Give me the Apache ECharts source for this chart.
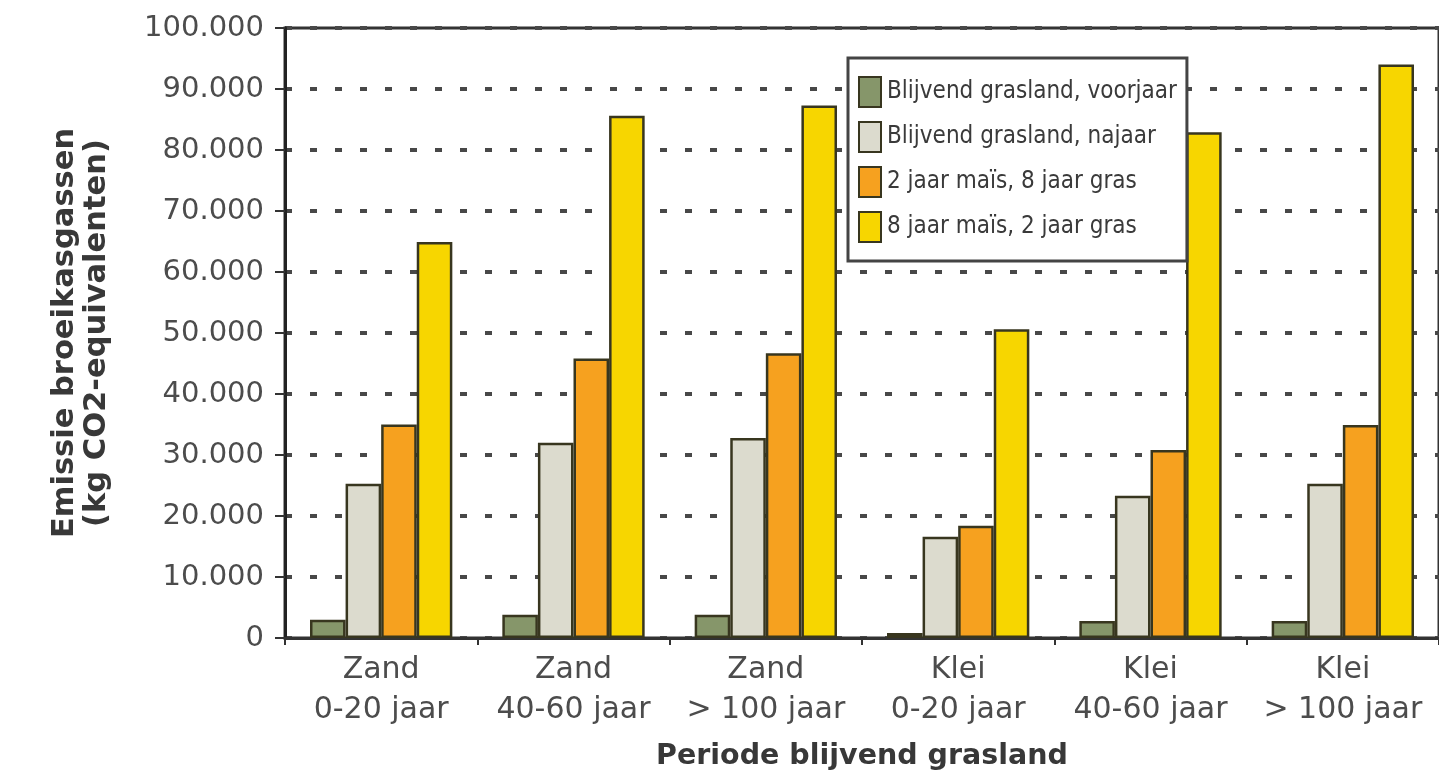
<!DOCTYPE html>
<html>
<head>
<meta charset="utf-8">
<style>
  html, body { margin: 0; padding: 0; background: #ffffff; }
  #chart { width: 1439px; height: 777px; }
</style>
<script src="https://cdn.jsdelivr.net/npm/echarts@6/dist/echarts.min.js"></script>
</head>
<body>
<div id="chart"></div>
<script>
const categories = ['Zand\n0-20 jaar', 'Zand\n40-60 jaar', 'Zand\n> 100 jaar', 'Klei\n0-20 jaar', 'Klei\n40-60 jaar', 'Klei\n> 100 jaar'];
const seriesNames = ['Blijvend grasland, voorjaar', 'Blijvend grasland, najaar', '2 jaar maïs, 8 jaar gras', '8 jaar maïs, 2 jaar gras'];
const voorjaar = [3000, 3800, 3800, 800, 2800, 2800];
const najaar = [25300, 32000, 32800, 16600, 23300, 25300];
const mais2gras8 = [35000, 45800, 46700, 18400, 30800, 34900];
const mais8gras2 = [64900, 85600, 87300, 50600, 82900, 94000];
const yTickLabels = ['0', '10.000', '20.000', '30.000', '40.000', '50.000', '60.000', '70.000', '80.000', '90.000', '100.000'];
const yTitle = 'Emissie broeikasgassen\n(kg CO2-equivalenten)';
const xTitle = 'Periode blijvend grasland';

const colors = ['#86966a', '#dcdbce', '#f6a11f', '#f7d600'];
const values = [voorjaar, najaar, mais2gras8, mais8gras2];
const font = '"DejaVu Sans", "Noto Sans", sans-serif';

const chart = echarts.init(document.getElementById('chart'), null, { renderer: 'canvas' });
chart.setOption({
  backgroundColor: '#ffffff',
  animation: false,
  grid: {
    left: 285, right: -9, top: 28, bottom: 139,
    show: true, borderColor: '#333333', borderWidth: 3, backgroundColor: 'transparent'
  },
  legend: {
    orient: 'vertical',
    left: 848, top: 58,
    padding: [18, 10, 18, 10],
    itemWidth: 22, itemHeight: 30, itemGap: 13,
    borderColor: '#444444', borderWidth: 3,
    backgroundColor: '#ffffff',
    icon: 'rect',
    textStyle: { fontFamily: '"DejaVu Sans Condensed", "DejaVu Sans", sans-serif', fontSize: 24, color: '#3a3a3a', width: 291, padding: [0, 0, 0, 1] },
    data: seriesNames
  },
  xAxis: {
    type: 'category',
    data: categories,
    name: xTitle,
    nameLocation: 'middle',
    nameGap: 104,
    nameTextStyle: { fontFamily: font, fontSize: 28.5, fontWeight: 'bold', color: '#383838' },
    axisLine: { lineStyle: { color: '#333333', width: 3 } },
    axisTick: { show: true, length: 7, alignWithLabel: false, lineStyle: { color: '#333333', width: 2 } },
    axisLabel: { fontFamily: font, fontSize: 30, color: '#4c4c4c', margin: 12, lineHeight: 40, interval: 0 },
    splitLine: { show: false }
  },
  yAxis: {
    type: 'value',
    min: 0, max: 100000, interval: 10000,
    name: yTitle,
    nameLocation: 'middle',
    nameRotate: 90,
    nameGap: 172,
    nameTextStyle: { fontFamily: font, fontSize: 30.5, fontWeight: 'bold', color: '#383838', lineHeight: 32 },
    axisLine: { show: true, lineStyle: { color: '#222222', width: 3 } },
    axisTick: { show: true, length: 10, lineStyle: { color: '#333333', width: 2 } },
    axisLabel: {
      fontFamily: font, fontSize: 29, color: '#4c4c4c', margin: 21,
      formatter: function (v) { return yTickLabels[Math.round(v / 10000)]; }
    },
    splitLine: { show: true, lineStyle: { color: '#484848', width: 4, type: [7, 18] } }
  },
  series: seriesNames.map(function (name, i) {
    return {
      name: name,
      type: 'bar',
      data: values[i],
      barGap: '0%',
      barCategoryGap: '26%',
      itemStyle: { color: colors[i], borderColor: '#38361f', borderWidth: 2.5 }
    };
  })
});
</script>
</body>
</html>
